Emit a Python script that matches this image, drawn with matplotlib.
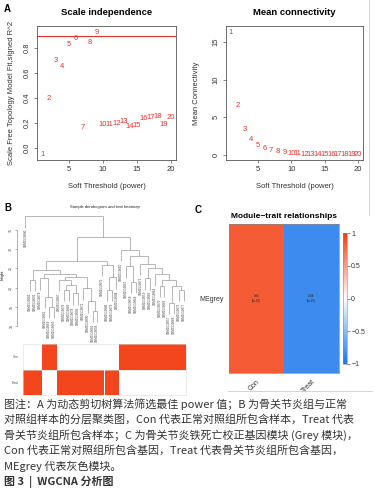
import numpy as np
import matplotlib
matplotlib.use("Agg")
import matplotlib.pyplot as plt
from matplotlib.colors import LinearSegmentedColormap

# ---------------- data ----------------
powers = list(range(1, 21))
sft_r2 = [-0.053, 0.40, 0.70, 0.65, 0.83, 0.88, 0.163, 0.84, 0.925, 0.19,
          0.19, 0.195, 0.21, 0.17, 0.18, 0.235, 0.243, 0.248, 0.19, 0.243]
mean_k = [16.3, 6.6, 3.45, 2.0, 1.28, 0.88, 0.58, 0.44, 0.30, 0.22,
          0.16, 0.13, 0.10, 0.08, 0.065, 0.05, 0.04, 0.035, 0.03, 0.025]
r2_cut = 0.9

# sample dendrogram: nested [left, right, height]; ints are leaf order numbers
dendro_tree = [1,
               [[[[2, 3, 22.0],
                  [[4, [5, [6, 7, 15.0], 17.6], 22.5],
                   [[8, [[9, 10, 19.5], [11, 12, 18.5], 20.8], 22.0],
                    [13, [14, [15, 16, 14.0], 16.5], 19.8], 22.8], 23.5], 24.5],
                 [17, [[18, 19, 19.5], 20, 22.7], 26.0], 26.9],
                [21, [[22, [23, 24, 21.5], 25.5],
                      [25, [[26, 27, 22.5],
                            [28, [[29, 30, 20.5], [[31, 32, 16.0], [33, 34, 19.5], 20.5], 22.0], 23.5],
                            25.0], 26.2], 28.3], 29.8], 33.1],
               38.6]
sample_names = ["GSM1519080", "GSM1519083", "GSM1519091", "GSM1519074", "GSM1519062",
                "GSM1519069", "GSM1519065", "GSM1519087", "GSM1519076", "GSM1519089",
                "GSM1519078", "GSM1519085", "GSM1519072", "GSM1519090", "GSM1519081",
                "GSM1519093", "GSM1519075", "GSM1519086", "GSM1519079", "GSM1519084",
                "GSM1519060", "GSM1519067", "GSM1519058", "GSM1519064", "GSM1519071",
                "GSM1519059", "GSM1519066", "GSM1519061", "GSM1519070", "GSM1519063",
                "GSM1519057", "GSM1519068", "GSM1519073", "GSM1519077"]
trait_con = [0, 0, 0, 0, 1, 1, 1, 0, 0, 0, 0, 0, 0, 0, 0, 0, 0, 0, 0, 0,
             1, 1, 1, 1, 1, 1, 1, 1, 1, 1, 1, 1, 1, 1]
trait_names = ["Con", "Treat"]
height_ticks = [10, 15, 20, 25, 30, 35]

module_names = ["MEgrey"]
trait_cols = ["Con", "Treat"]
module_cor = [[0.84, -0.84]]
module_p = [["6e-10", "6e-10"]]

caption_lines = [
    "图注：A 为动态剪切树算法筛选最佳 power 值；B 为骨关节炎组与正常",
    "对照组样本的分层聚类图，Con 代表正常对照组所包含样本，Treat 代表",
    "骨关节炎组所包含样本；C 为骨关节炎铁死亡校正基因模块 (Grey 模块)，",
    "Con 代表正常对照组所包含基因，Treat 代表骨关节炎组所包含基因，",
    "MEgrey 代表灰色模块。",
]
fig_title = "图 3  |  WGCNA 分析图"

# ---------------- figure ----------------
W, H = 375, 496
fig = plt.figure(figsize=(W / 100, H / 100), dpi=100)
SANS = ["Liberation Sans", "DejaVu Sans"]
CJK = ["Noto Sans CJK SC", "DejaVu Sans"]
plt.rcParams["font.family"] = SANS


def ax_px(x0, y0, x1, y1):
    return fig.add_axes([x0 / W, 1 - y1 / H, (x1 - x0) / W, (y1 - y0) / H])


def r_style(ax, fs=5.5):
    for s in ax.spines.values():
        s.set_linewidth(0.6)
        s.set_color("#555555")
    ax.tick_params(direction="out", length=2.5, width=0.5, colors="#555555",
                   labelsize=fs, labelcolor="#333333", pad=2)
    for lab in ax.get_yticklabels():
        lab.set_rotation(90)
        lab.set_va("center")


RED = "#E8302C"

# Panel A left
ax1 = ax_px(37, 26, 176, 160)
ax1.set_xlim(0.24, 20.76)
ax1.set_ylim(-0.096, 0.976)
for p, v in zip(powers, sft_r2):
    ax1.text(p, v, str(p), color=RED, fontsize=5.5, ha="center", va="center")
ax1.axhline(r2_cut, color=RED, lw=0.8)
ax1.set_xticks([5, 10, 15, 20])
ax1.set_yticks([0.0, 0.2, 0.4, 0.6, 0.8])
ax1.set_yticklabels(["0.0", "0.2", "0.4", "0.6", "0.8"])
r_style(ax1)
ax1.set_xlabel("Soft Threshold (power)", fontsize=5.5, color="#333333", labelpad=7)
ax1.set_ylabel("Scale Free Topology Model Fit,signed R^2", fontsize=5.5,
               color="#333333", labelpad=6)
ax1.set_title("Scale independence", fontsize=6.8, fontweight="bold", pad=8)

# Panel A right
ax2 = ax_px(226, 26, 363, 160)
ax2.set_xlim(0.24, 20.76)
ax2.set_ylim(-0.66, 17.12)
for p, v in zip(powers, mean_k):
    ax2.text(p, v, str(p), color=RED, fontsize=5.5, ha="center", va="center")
ax2.set_xticks([5, 10, 15, 20])
ax2.set_yticks([0, 5, 10, 15])
r_style(ax2)
ax2.set_xlabel("Soft Threshold (power)", fontsize=5.5, color="#333333", labelpad=7)
ax2.set_ylabel("Mean Connectivity", fontsize=5.5, color="#333333", labelpad=9)
ax2.set_title("Mean connectivity", fontsize=6.8, fontweight="bold", pad=8)

# Panel B dendrogram
axd = ax_px(23, 210, 186, 340)
n = len(sample_names)
axd.set_xlim(0.5, n + 0.5)
axd.set_ylim(6.36, 40.2)
hang = 3.0
LC = "#9a9a9a"


def draw(node):
    if isinstance(node, int):
        return float(node), None
    l, r, h = node
    xl, hl = draw(l)
    xr, hr = draw(r)
    for x, hc, child in ((xl, hl, l), (xr, hr, r)):
        bottom = hc if hc is not None else h - hang
        axd.plot([x, x], [bottom, h], color=LC, lw=0.5, solid_capstyle="butt")
        if hc is None:
            axd.text(x, bottom - 0.4, sample_names[child - 1], rotation=90,
                     fontsize=2.2, ha="center", va="top", color="#444444",
                     clip_on=False)
    axd.plot([xl, xr], [h, h], color=LC, lw=0.5, solid_capstyle="butt")
    return (xl + xr) / 2, h


draw(dendro_tree)
for s in ["top", "right", "bottom"]:
    axd.spines[s].set_visible(False)
axd.spines["left"].set_position(("outward", 4.5))
axd.spines["left"].set_bounds(height_ticks[0], height_ticks[-1])
axd.spines["left"].set_linewidth(0.4)
axd.spines["left"].set_color("#777777")
axd.set_xticks([])
axd.set_yticks(height_ticks)
axd.tick_params(axis="y", length=1.5, width=0.4, labelsize=2.5, pad=1,
                colors="#777777", labelcolor="#444444")
for lab in axd.get_yticklabels():
    lab.set_rotation(90)
    lab.set_va("center")
axd.set_ylabel("Height", fontsize=2.6, labelpad=3)
fig.text(105 / W, 1 - 207 / H, "Sample dendrogram and trait heatmap",
         fontsize=3, ha="center", va="center", color="#222222")

# Panel B trait heatmap
axh = ax_px(23, 344, 186, 395)
TRED = "#F4461C"
con = np.array(trait_con)
rows = [con, 1 - con]
for ri, row in enumerate(rows):
    for i, v in enumerate(row):
        if v:
            axh.add_patch(plt.Rectangle((i + 0.5, len(rows) - ri - 1), 1, 1,
                                        facecolor=TRED, edgecolor="none"))
axh.set_xlim(0.5, n + 0.5)
axh.set_ylim(0, 2)
axh.axhline(1, color="#dddddd", lw=0.4)
for s in axh.spines.values():
    s.set_color("#dddddd")
    s.set_linewidth(0.4)
axh.set_xticks([])
axh.set_yticks([1.5, 0.5])
axh.set_yticklabels(trait_names, fontsize=2.2, color="#444444")
axh.tick_params(axis="y", length=0, pad=3)

# Panel C module-trait heatmap
cmap = LinearSegmentedColormap.from_list("bwr_c", ["#1A76EC", "#FFFFFF", "#F23D10"])
axc = ax_px(229, 224, 339, 373)
vals = np.array(module_cor)
axc.pcolormesh(vals, cmap=cmap, vmin=-1, vmax=1)
for j, t in enumerate(trait_cols):
    axc.text(j + 0.5, 0.5, f"{module_cor[0][j]:.2f}\n({module_p[0][j]})",
             fontsize=2.0, ha="center", va="center", color="#222222",
             linespacing=1.1)
axc.set_xlim(0, len(trait_cols))
axc.set_ylim(0, 1)
for s in axc.spines.values():
    s.set_color("#888888")
    s.set_linewidth(0.5)
axc.set_xticks([0.5, 1.5])
axc.set_xticklabels(trait_cols, rotation=45, ha="right", rotation_mode="anchor",
                    fontsize=5, color="#333333")
axc.set_yticks([0.5])
axc.set_yticklabels(module_names, fontsize=5, color="#333333")
axc.tick_params(length=0, pad=4)
axc.set_title("Module\u2212trait relationships", fontsize=6, fontweight="bold", pad=4)

cax = ax_px(343, 233, 347, 364)
sm = plt.cm.ScalarMappable(cmap=cmap, norm=plt.Normalize(-1, 1))
cb = fig.colorbar(sm, cax=cax, ticks=[-1, -0.5, 0, 0.5, 1])
cb.ax.set_yticklabels(["\u22121", "\u22120.5", "0", "0.5", "1"])
cb.ax.tick_params(labelsize=5, length=2, width=0.5, pad=1, colors="#555555",
                  labelcolor="#333333")
cb.outline.set_linewidth(0.4)
cb.outline.set_edgecolor("#888888")

# panel letters
fig.text(4 / W, 1 - 9 / H, "A", fontsize=7, fontweight="bold", va="center")
fig.text(4 / W, 1 - 208 / H, "B", fontsize=7, fontweight="bold", va="center")
fig.text(195 / W, 1 - 210 / H, "C", fontsize=7, fontweight="bold", va="center")

# frame lines
fig.add_artist(plt.Line2D([369 / W, 369 / W], [1, 1 - 215 / H], color="#cccccc", lw=0.6))
fig.add_artist(plt.Line2D([228 / W, 372 / W], [1 - 391 / H, 1 - 391 / H], color="#cccccc", lw=0.6))

# caption
ys = [404, 419.5, 435, 450.5, 466]
for y, line in zip(ys, caption_lines):
    fig.text(4 / W, 1 - y / H, line, fontsize=7.95, family=CJK, color="#333333",
             va="center", ha="left")
fig.text(4 / W, 1 - 482 / H, fig_title, fontsize=7.95, family=CJK, color="#333333",
         va="center", ha="left", fontweight="bold")

fig.savefig("out.png", dpi=100)
